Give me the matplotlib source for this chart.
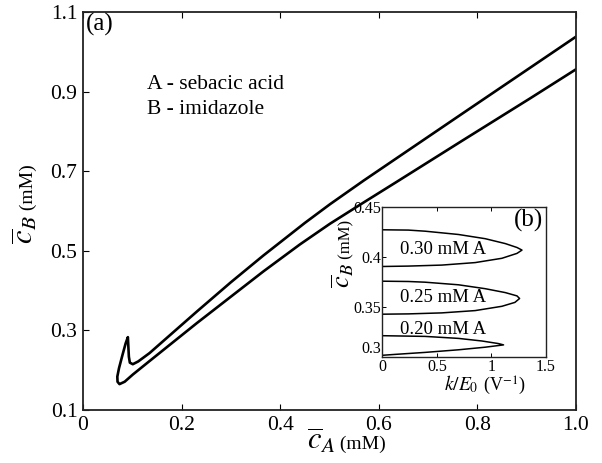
import matplotlib.pyplot as plt
import numpy as np

plt.rcParams['font.family'] = ['Liberation Serif', 'DejaVu Serif']
plt.rcParams['mathtext.fontset'] = 'stix'

# ── Main curve (a): c_B vs c_A, traced from upper-right end round the cusp to lower-right end
ca_main = [1.0, 0.907, 0.771, 0.636, 0.57, 0.501, 0.45, 0.3657, 0.30, 0.2306, 0.135, 0.112,
           0.101, 0.095, 0.093, 0.091, 0.0865, 0.080, 0.073, 0.0696, 0.070, 0.074,
           0.0845, 0.101, 0.135, 0.2306, 0.3657, 0.44, 0.501, 0.57, 0.636, 0.771, 0.907, 1.0]
cb_main = [1.038, 0.960, 0.846, 0.7325, 0.677, 0.617, 0.570, 0.488, 0.421, 0.347, 0.243, 0.222,
           0.215, 0.219, 0.234, 0.283, 0.2675, 0.238, 0.205, 0.184, 0.171, 0.165,
           0.171, 0.189, 0.223, 0.318, 0.448, 0.516, 0.568, 0.622, 0.673, 0.778, 0.883, 0.956]

# ── Inset (b): k/E0 vs c_B for three sebacic acid levels
k_030 = [0, 0.239, 0.392, 0.698, 0.943, 1.127, 1.234, 1.28, 1.234, 1.096, 0.851, 0.545, 0.239, 0]
cb_030 = [0.4275, 0.4272, 0.4261, 0.4228, 0.4186, 0.4137, 0.4098, 0.4072, 0.4039, 0.399,
          0.3947, 0.3922, 0.3912, 0.3908]
k_025 = [0, 0.239, 0.392, 0.698, 0.943, 1.127, 1.234, 1.258, 1.215, 1.096, 0.851, 0.545, 0.239, 0]
cb_025 = [0.3761, 0.3758, 0.3751, 0.3725, 0.3686, 0.3647, 0.3614, 0.3588, 0.3549, 0.351,
          0.3467, 0.3444, 0.3434, 0.3431]
k_020 = [0, 0.392, 0.698, 0.913, 1.065, 1.111, 0.943, 0.698, 0.392, 0.117, 0]
cb_020 = [0.3216, 0.3209, 0.3189, 0.3163, 0.3137, 0.3124, 0.3101, 0.3075, 0.3049, 0.3029, 0.302]
inset_labels = ['0.30 mM A', '0.25 mM A', '0.20 mM A']


def split_label(ax, x, y, sym, unit, sym_size, unit_size, rotation=0):
    # big math symbol + smaller unit text, joined at (x, y) on a shared baseline
    kw = dict(transform=ax.transAxes, va='baseline', rotation=rotation,
              rotation_mode='anchor', clip_on=False)
    ax.text(x, y, sym, ha='right', fontsize=sym_size, **kw)
    ax.text(x, y, unit, ha='left', fontsize=unit_size, **kw)


fig = plt.figure(figsize=(6.02, 4.63), dpi=100)
ax = fig.add_axes([0.1379, 0.1145, 0.8189, 0.8596])
ax.plot(ca_main, cb_main, color='k', lw=1.9)
ax.set_xlim(0, 1.0)
ax.set_ylim(0.1, 1.1)
ax.set_xticks([0, 0.2, 0.4, 0.6, 0.8, 1.0])
ax.set_xticklabels(['0', '0.2', '0.4', '0.6', '0.8', '1.0'])
ax.set_yticks([0.1, 0.3, 0.5, 0.7, 0.9, 1.1])
ax.set_yticklabels(['0.1', '0.3', '0.5', '0.7', '0.9', '1.1'])
ax.tick_params(direction='in', length=4, width=0.8, labelsize=15.5, top=True, right=False,
               pad=4)
for s in ax.spines.values():
    s.set_linewidth(1.3)
    s.set_color('#222222')
split_label(ax, 0.511, -0.098, r'$\overline{c}_A$', ' (mM)', 22, 14)
split_label(ax, -0.101, 0.49, r'$\overline{c}_B$', ' (mM)', 22, 14, rotation=90)
ax.text(0.006, 0.997, '(a)', transform=ax.transAxes, fontsize=18, va='top', ha='left')
ax.text(0.13, 0.917, 'A - sebacic acid', fontsize=15.5, va='center')
ax.text(0.13, 0.854, 'B - imidazole', fontsize=15.5, va='center')

# ── Inset
axi = fig.add_axes([0.635, 0.2283, 0.272, 0.324])
for k, cb in [(k_030, cb_030), (k_025, cb_025), (k_020, cb_020)]:
    axi.plot(k, cb, color='k', lw=1.1)
axi.set_xlim(0, 1.5)
axi.set_ylim(0.3, 0.45)
axi.set_xticks([0, 0.5, 1, 1.5])
axi.set_xticklabels(['0', '0.5', '1', '1.5'])
axi.set_yticks([0.3, 0.35, 0.4, 0.45])
axi.set_yticklabels(['0.3', '0.35', '0.4', '0.45'])
axi.get_yticklabels()[0].set_va('bottom')   # "0.3" sits just above the corner
axi.tick_params(direction='in', length=3, width=0.7, labelsize=11.5, top=True, right=False,
                pad=1)
for s in axi.spines.values():
    s.set_linewidth(1.0)
    s.set_color('#222222')
split_label(axi, 0.59, -0.222, r'$k/E_0$', r' (V$^{-1}$)', 14, 13)
split_label(axi, -0.197, 0.63, r'$\overline{c}_B$', ' (mM)', 19, 12, rotation=90)
for lab, y in zip(inset_labels, [0.408, 0.360, 0.328]):
    axi.text(0.16, y, lab, fontsize=13.5, va='center')
axi.text(0.985, 0.99, '(b)', transform=axi.transAxes, fontsize=18, va='top', ha='right')

fig.savefig('out.png', dpi=100)
